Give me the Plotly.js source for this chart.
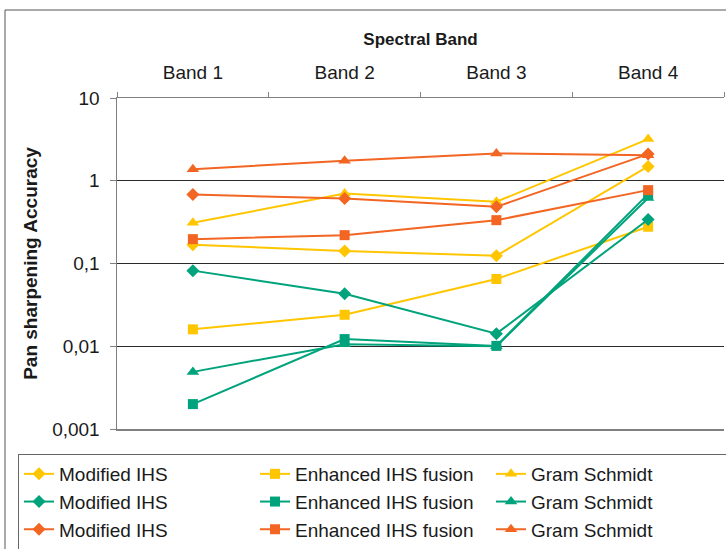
<!DOCTYPE html>
<html>
<head>
<meta charset="utf-8">
<script src="https://cdn.plot.ly/plotly-3.0.1.min.js"></script>
<style>html,body{margin:0;padding:0;background:#fff;}#chart{width:726px;height:549px;}</style>
</head>
<body>
<div id="chart"></div>
<script>
// ---- data ----
const bands = ['Band 1', 'Band 2', 'Band 3', 'Band 4'];
const yTickVals = [10, 1, 0.1, 0.01, 0.001];
const yTickText = ['10', '1', '0,1', '0,01', '0,001'];

const methodNames = ['Modified IHS', 'Enhanced IHS fusion', 'Gram Schmidt'];

// yellow group
const yellowModifiedIHS = [0.168, 0.142, 0.124, 1.49];
const yellowEnhancedIHS = [0.016, 0.024, 0.065, 0.278];
const yellowGramSchmidt = [0.31, 0.70, 0.557, 3.19];
// green group
const greenModifiedIHS = [0.082, 0.043, 0.0142, 0.34];
const greenEnhancedIHS = [0.0020, 0.0122, 0.0101, 0.69];
const greenGramSchmidt = [0.0049, 0.0106, 0.0100, 0.62];
// orange group
const orangeModifiedIHS = [0.68, 0.61, 0.484, 2.10];
const orangeEnhancedIHS = [0.197, 0.22, 0.334, 0.77];
const orangeGramSchmidt = [1.38, 1.75, 2.14, 2.04];

// ---- styling ----
const colors = {yellow: '#FFC600', green: '#00A37B', orange: '#F26522'};
const symbols = ['diamond', 'square', 'triangle-up'];
const sizes = [10, 10, 11];

const groups = [
  {color: colors.yellow, series: [yellowModifiedIHS, yellowEnhancedIHS, yellowGramSchmidt]},
  {color: colors.green, series: [greenModifiedIHS, greenEnhancedIHS, greenGramSchmidt]},
  {color: colors.orange, series: [orangeModifiedIHS, orangeEnhancedIHS, orangeGramSchmidt]}
];

const traces = [];
groups.forEach(g => {
  g.series.forEach((vals, i) => {
    traces.push({
      type: 'scatter',
      mode: 'lines+markers',
      x: bands,
      y: vals,
      name: methodNames[i],
      line: {color: g.color, width: 2},
      marker: {symbol: symbols[i], size: sizes[i], color: g.color},
      cliponaxis: false
    });
  });
});

const W = 726, H = 549;
const mL = 117, mR = 2, mT = 98, mB = 120;
const plotW = W - mL - mR, plotH = H - mT - mB;
function px2x(px) { return (px - mL) / plotW; }
function py2y(py) { return (H - mB - py) / plotH; }

const font = 'Arial, "Liberation Sans", sans-serif';

const layout = {
  width: W,
  height: H,
  margin: {l: mL, r: mR, t: mT, b: mB, pad: 0, autoexpand: false},
  paper_bgcolor: '#ffffff',
  plot_bgcolor: '#ffffff',
  font: {family: font, size: 19, color: '#1a1a1a'},
  showlegend: true,
  xaxis: {
    type: 'category',
    side: 'top',
    range: [-0.5, 3.5],
    showgrid: false,
    zeroline: false,
    showline: true,
    linecolor: '#808080',
    linewidth: 1.5,
    mirror: true,
    ticks: 'outside',
    tickson: 'boundaries',
    ticklen: 5,
    tickcolor: '#808080',
    ticklabelstandoff: 10,
    tickfont: {family: font, size: 19, color: '#1a1a1a'},
    title: {text: '<b>Spectral Band</b>', font: {family: font, size: 17, color: '#1a1a1a'}, standoff: 12},
    automargin: false,
    fixedrange: true
  },
  yaxis: {
    type: 'log',
    range: [-3, 1],
    autorange: false,
    tickvals: yTickVals,
    ticktext: yTickText,
    showgrid: true,
    gridcolor: '#2a2a2a',
    gridwidth: 1,
    zeroline: false,
    showline: true,
    linecolor: '#808080',
    linewidth: 1.5,
    ticks: 'outside',
    ticklen: 6,
    tickcolor: '#808080',
    ticklabelstandoff: 6,
    tickfont: {family: font, size: 19, color: '#1a1a1a'},
    title: {text: '<b>Pan sharpening Accuracy</b>', font: {family: font, size: 19, color: '#1a1a1a'}, standoff: 9},
    automargin: false,
    fixedrange: true
  },
  legend: {
    orientation: 'h',
    xref: 'paper', yref: 'paper',
    x: px2x(18), y: py2y(454),
    xanchor: 'left', yanchor: 'top',
    entrywidth: 191,
    entrywidthmode: 'pixels',
    bordercolor: '#666666',
    borderwidth: 1,
    bgcolor: '#ffffff',
    font: {family: font, size: 19, color: '#1a1a1a'},
    traceorder: 'normal'
  },
  shapes: [
    {type: 'rect', xref: 'paper', yref: 'paper',
     x0: px2x(5), x1: px2x(740), y0: py2y(570), y1: py2y(10),
     line: {color: '#555555', width: 1}, fillcolor: 'rgba(0,0,0,0)', layer: 'below'}
  ]
};

Plotly.newPlot('chart', traces, layout, {displayModeBar: false, staticPlot: true});
</script>
</body>
</html>
